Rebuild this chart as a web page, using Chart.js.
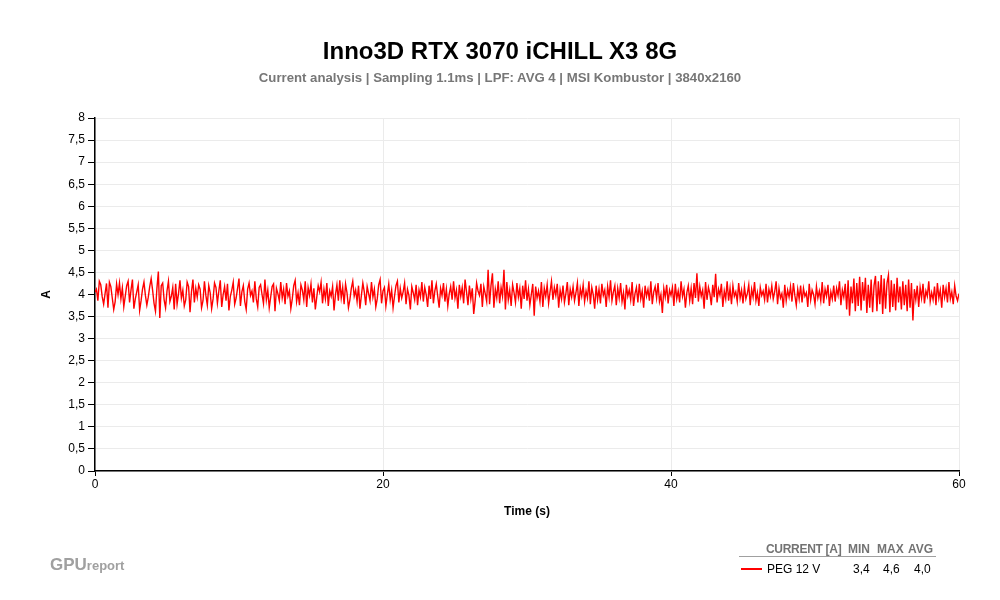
<!DOCTYPE html>
<html>
<head>
<meta charset="utf-8">
<script src="https://cdn.jsdelivr.net/npm/chart.js@4/dist/chart.umd.min.js"></script>
<style>
  body { margin: 0; background: #fff; font-family: "Liberation Sans", Arial, sans-serif; }
  #wrap { position: relative; width: 1000px; height: 600px; }
  #title { position: absolute; left: 0; width: 1000px; top: 37px; text-align: center; font-size: 24px; font-weight: bold; color: #000; }
  #subtitle { position: absolute; left: 0; width: 1000px; top: 70px; text-align: center; font-size: 13.2px; font-weight: bold; color: #777; }
  #brand { position: absolute; left: 50px; top: 555px; font-size: 17px; font-weight: bold; color: #a0a0a0; }
  #brand span { font-size: 13px; }
  #legend { position: absolute; left: 739px; top: 540px; font-size: 12px; }
  #legend .hdr { color: #737373; font-weight: bold; border-bottom: 1px solid #a0a0a0; height: 16px; width: 197px; position: relative; }
  #legend .row { position: relative; height: 20px; width: 197px; }
  #legend div span { position: absolute; top: 2px; }
  #legend .swatch { position: absolute; left: 2px; top: 11px; width: 21px; height: 2px; background: #ff0000; }
</style>
</head>
<body>
<div id="wrap">
  <canvas id="chart" width="1000" height="600"></canvas>
  <div id="title">Inno3D RTX 3070 iCHILL X3 8G</div>
  <div id="subtitle">Current analysis | Sampling 1.1ms | LPF: AVG 4 | MSI Kombustor | 3840x2160</div>
  <div id="brand">GPU<span>report</span></div>
  <div id="legend">
    <div class="hdr"><span style="left:27px;letter-spacing:-0.3px">CURRENT [A]</span><span style="left:109px">MIN</span><span style="left:138px">MAX</span><span style="left:169px">AVG</span></div>
    <div class="row"><div class="swatch"></div><span style="left:28px;top:5px">PEG 12 V</span><span style="left:114px;top:5px">3,4</span><span style="left:144px;top:5px">4,6</span><span style="left:175px;top:5px">4,0</span></div>
  </div>
</div>
<script>
const seriesName = 'PEG 12 V';
const sampleStep = 0.1; // seconds between the points below
const pegCurrent = [
  4.05,4.12,3.86,4.30,4.22,3.95,3.78,4.02,4.25,3.70,
  4.28,4.18,3.92,3.66,3.84,4.24,4.00,4.26,3.90,4.15,
  3.72,3.96,4.20,4.30,3.82,4.10,4.34,3.68,3.90,4.06,
  4.22,3.64,3.86,4.12,4.28,3.98,3.76,3.94,4.18,4.36,
  4.10,3.80,3.62,4.14,4.52,3.47,4.20,4.26,3.88,3.70,
  4.08,4.30,3.84,3.96,4.16,3.66,4.24,3.78,4.02,4.32,
  3.92,4.10,3.74,3.88,4.28,4.18,3.60,4.06,4.34,3.82,
  4.14,3.94,4.22,4.12,3.70,3.86,4.30,3.98,3.76,4.20,
  4.04,3.68,3.90,4.26,4.16,3.80,4.08,4.32,3.72,4.00,
  4.18,3.86,4.24,3.64,3.96,4.10,4.28,3.78,3.92,4.14,
  4.36,3.74,4.06,4.20,3.84,3.66,4.12,4.26,3.98,4.08,
  3.82,4.30,3.90,3.72,4.16,4.22,4.00,3.80,4.34,3.88,
  4.10,3.70,3.94,4.18,4.24,3.62,4.14,4.02,3.86,4.28,
  3.92,4.12,3.78,4.26,3.96,4.08,3.68,3.90,4.20,4.32,
  3.84,4.04,3.76,4.22,4.10,3.88,4.30,3.72,4.16,3.98,
  4.24,3.82,4.14,3.66,3.94,4.20,4.06,4.28,3.80,4.12,
  3.90,4.26,3.74,4.08,3.96,4.18,3.64,4.00,4.22,3.86,
  4.32,3.92,4.16,3.78,4.24,4.04,3.70,3.88,4.14,4.30,
  3.96,4.10,3.84,4.20,3.68,3.98,4.26,4.06,3.76,4.18,
  4.02,3.86,4.28,3.94,4.12,3.72,3.90,4.22,4.34,3.80,
  4.08,4.16,3.74,4.00,4.24,3.88,4.10,3.70,3.96,4.20,
  4.30,3.82,4.14,3.92,4.06,4.26,3.78,4.12,3.98,3.66,
  4.18,4.04,3.88,4.22,3.76,4.10,3.94,4.28,3.84,4.16,
  4.00,3.72,4.20,3.90,4.32,3.80,4.08,4.24,3.96,3.70,
  4.14,3.98,4.26,3.84,4.12,3.74,4.02,4.18,3.88,4.30,
  3.92,4.10,3.68,4.22,3.96,4.16,3.80,4.34,4.06,3.76,
  4.20,3.90,4.14,3.56,3.86,4.26,4.08,3.98,4.24,3.72,
  4.18,4.02,3.84,4.56,3.78,4.20,4.48,3.70,4.12,3.92,
  4.30,3.80,4.16,3.96,4.56,3.66,4.28,3.88,4.10,3.74,
  4.22,4.04,3.82,4.26,3.94,4.14,3.68,4.20,3.90,4.32,
  3.86,4.12,3.76,4.00,4.24,3.52,4.18,3.92,4.08,3.84,
  4.28,3.72,4.14,3.96,4.22,3.80,4.06,4.30,3.88,4.16,
  3.98,4.24,3.70,4.10,3.90,4.20,3.82,4.02,4.28,3.76,
  4.12,3.94,4.18,3.86,4.04,4.26,3.74,4.14,3.96,4.22,
  3.84,4.08,3.92,4.30,3.78,4.16,4.00,3.68,4.20,3.88,
  4.12,3.80,4.24,3.98,4.10,3.72,4.18,3.94,4.32,3.86,
  4.06,4.20,3.76,4.14,3.92,4.26,3.84,4.04,3.66,4.22,
  3.96,4.10,3.88,4.28,3.74,4.02,4.16,3.82,4.24,3.90,
  4.08,3.70,4.20,3.96,4.12,3.86,4.30,3.78,4.06,4.18,
  3.92,4.26,3.84,4.00,3.58,4.14,3.94,4.22,3.80,4.10,
  3.98,4.16,3.74,4.24,3.90,4.08,3.82,4.30,3.96,4.12,
  3.70,4.04,4.20,3.86,4.14,3.78,4.26,3.92,4.48,3.84,
  4.18,3.96,4.10,3.68,4.28,3.88,4.16,4.02,3.76,4.22,
  3.94,4.47,3.82,4.12,3.98,4.24,3.72,4.08,3.90,4.30,
  3.86,4.14,3.78,4.20,3.96,4.06,3.84,4.26,3.92,4.10,
  3.80,4.18,3.90,4.02,4.22,3.76,4.12,3.94,4.28,3.86,
  4.04,3.74,4.16,3.98,4.08,3.88,4.24,3.82,4.12,3.96,
  4.20,3.90,4.06,4.30,3.78,4.14,3.92,4.02,3.70,4.22,
  3.86,4.10,3.94,4.18,3.84,4.26,3.98,3.76,4.12,3.90,
  4.20,3.82,4.14,3.96,4.04,3.72,4.24,3.88,4.10,4.00,
  3.78,4.18,3.92,4.08,3.86,4.28,3.80,4.12,3.96,4.22,
  3.74,4.06,3.90,4.20,3.84,4.14,3.98,4.30,3.76,4.10,
  3.94,4.24,3.66,4.32,3.52,4.18,3.80,4.36,3.62,4.26,
  3.74,4.40,3.64,4.28,3.86,4.38,3.58,4.22,3.70,4.34,
  3.60,4.20,4.42,3.62,4.30,3.78,4.44,3.56,4.36,3.68,
  4.26,4.44,3.60,4.32,3.72,4.24,3.64,4.38,3.82,4.18,
  3.66,4.30,3.76,4.22,3.62,4.34,3.70,4.26,3.41,4.12,
  3.88,4.20,3.72,4.16,3.92,4.24,3.80,4.08,3.96,4.30,
  3.84,4.04,3.88,4.18,3.76,4.26,3.92,4.10,3.70,4.22,
  3.94,4.14,3.82,4.28,3.90,4.06,3.78,4.20,3.96,3.86,
  4.02
];
const xTicks = [0, 20, 40, 60];
const yMin = 0, yMax = 8, yStep = 0.5;

const points = pegCurrent.map((v, i) => ({ x: +(i * sampleStep).toFixed(2), y: v }));

const tickFont = { family: '"Liberation Sans", Arial, sans-serif', size: 12 };
const titleFont = { family: '"Liberation Sans", Arial, sans-serif', size: 12, weight: 'bold' };

new Chart(document.getElementById('chart').getContext('2d'), {
  type: 'line',
  data: {
    datasets: [{
      label: seriesName,
      data: points,
      borderColor: '#ff0000',
      borderWidth: 1.4,
      pointRadius: 0,
      tension: 0,
      fill: false
    }]
  },
  options: {
    responsive: false,
    animation: false,
    layout: { padding: { left: 35, right: 41, top: 118, bottom: 77 } },
    plugins: {
      legend: { display: false },
      tooltip: { enabled: false }
    },
    scales: {
      x: {
        type: 'linear',
        min: 0,
        max: 60,
        afterBuildTicks: axis => { axis.ticks = xTicks.map(v => ({ value: v })); },
        afterFit: axis => { axis.height = 52; },
        ticks: { color: '#000', font: tickFont, maxRotation: 0, padding: 1 },
        grid: { color: '#ebebeb', tickColor: '#000', tickLength: 5 },
        border: { color: '#000', width: 1.5 },
        title: { display: true, text: 'Time (s)', color: '#000', font: titleFont }
      },
      y: {
        min: yMin,
        max: yMax,
        afterFit: axis => { axis.width = 60; },
        ticks: {
          stepSize: yStep,
          color: '#000',
          font: tickFont,
          padding: 3,
          callback: v => String(v).replace('.', ',')
        },
        grid: { color: '#ebebeb', tickColor: '#000', tickLength: 7 },
        border: { color: '#000', width: 1.5 },
        title: { display: true, text: 'A', color: '#000', font: titleFont }
      }
    }
  }
});
</script>
</body>
</html>
